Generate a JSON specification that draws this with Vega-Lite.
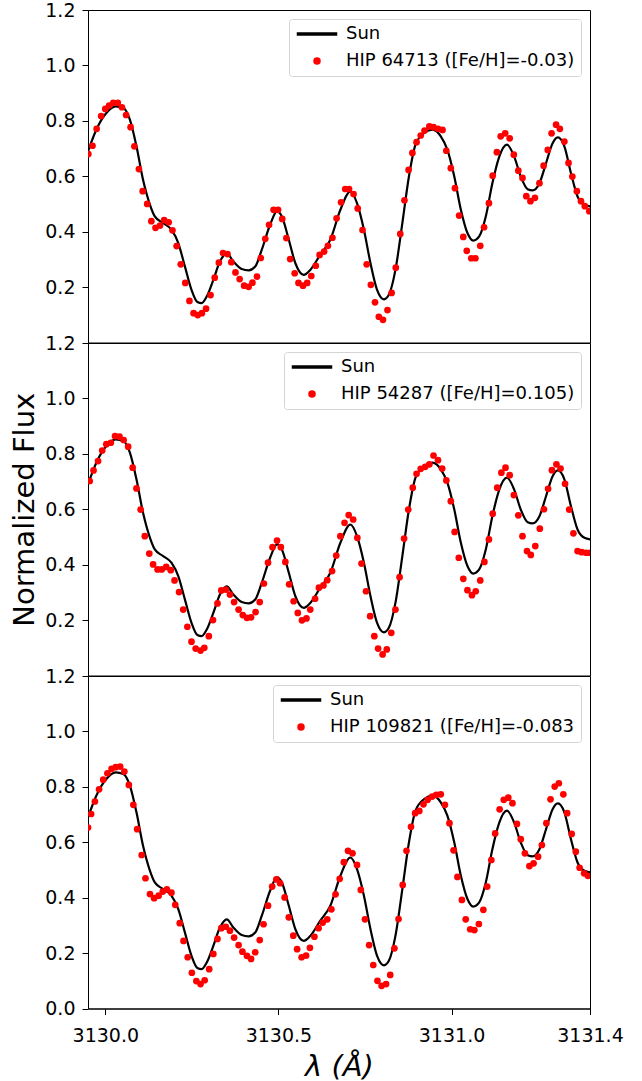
{
  "$schema": "https://vega.github.io/schema/vega-lite/v6.json",
  "padding": {"left": 10, "top": 0, "right": 5, "bottom": 0},
  "spacing": 0,
  "bounds": "flush",
  "resolve": {"scale": {"color": "independent", "shape": "independent"}, "legend": {"color": "independent", "shape": "independent"}},
  "config": {
    "font": "DejaVu Sans",
    "view": {"stroke": "black", "strokeWidth": 1},
    "axis": {"domainColor": "black", "tickColor": "black", "labelColor": "black", "grid": false, "labelFontSize": 19, "tickSize": 6, "domainWidth": 1, "tickWidth": 1, "titleFontSize": 29, "titleFontWeight": "normal", "titleColor": "black", "labelFlush": false, "labelOverlap": false},
    "legend": {"orient": "top-right", "offset": 9, "padding": 6, "labelFontSize": 18, "labelColor": "black", "labelLimit": 600, "symbolSize": 36, "rowPadding": 9, "strokeColor": "#d4d4d4", "fillColor": "white", "cornerRadius": 3, "symbolOffset": 13, "labelOffset": 20, "title": null}
  },
  "datasets": {
    "sun": [
      {"lambda":3129.950,"flux":0.690},{"lambda":3129.974,"flux":0.768},{"lambda":3130.003,"flux":0.828},{"lambda":3130.030,"flux":0.852},{"lambda":3130.052,"flux":0.846},{"lambda":3130.071,"flux":0.804},{"lambda":3130.090,"flux":0.708},{"lambda":3130.109,"flux":0.587},{"lambda":3130.129,"flux":0.497},{"lambda":3130.143,"flux":0.455},{"lambda":3130.167,"flux":0.431},{"lambda":3130.191,"flux":0.407},{"lambda":3130.211,"flux":0.358},{"lambda":3130.230,"flux":0.274},{"lambda":3130.249,"flux":0.190},{"lambda":3130.266,"flux":0.146},{"lambda":3130.278,"flux":0.142},{"lambda":3130.293,"flux":0.166},{"lambda":3130.312,"flux":0.226},{"lambda":3130.331,"flux":0.292},{"lambda":3130.351,"flux":0.322},{"lambda":3130.370,"flux":0.292},{"lambda":3130.394,"flux":0.265},{"lambda":3130.414,"flux":0.260},{"lambda":3130.433,"flux":0.274},{"lambda":3130.452,"flux":0.335},{"lambda":3130.476,"flux":0.425},{"lambda":3130.496,"flux":0.473},{"lambda":3130.510,"flux":0.455},{"lambda":3130.530,"flux":0.371},{"lambda":3130.549,"flux":0.286},{"lambda":3130.573,"flux":0.244},{"lambda":3130.592,"flux":0.262},{"lambda":3130.621,"flux":0.317},{"lambda":3130.650,"flux":0.371},{"lambda":3130.679,"flux":0.479},{"lambda":3130.708,"flux":0.545},{"lambda":3130.727,"flux":0.503},{"lambda":3130.747,"flux":0.407},{"lambda":3130.766,"flux":0.286},{"lambda":3130.785,"flux":0.190},{"lambda":3130.805,"flux":0.156},{"lambda":3130.819,"flux":0.172},{"lambda":3130.838,"flux":0.262},{"lambda":3130.858,"flux":0.431},{"lambda":3130.877,"flux":0.599},{"lambda":3130.896,"flux":0.714},{"lambda":3130.921,"flux":0.756},{"lambda":3130.945,"flux":0.768},{"lambda":3130.969,"flux":0.744},{"lambda":3130.988,"flux":0.696},{"lambda":3131.008,"flux":0.599},{"lambda":3131.027,"flux":0.479},{"lambda":3131.046,"flux":0.395},{"lambda":3131.063,"flux":0.368},{"lambda":3131.080,"flux":0.383},{"lambda":3131.099,"flux":0.455},{"lambda":3131.118,"flux":0.575},{"lambda":3131.138,"flux":0.671},{"lambda":3131.160,"flux":0.714},{"lambda":3131.181,"flux":0.671},{"lambda":3131.200,"flux":0.599},{"lambda":3131.220,"flux":0.553},{"lambda":3131.234,"flux":0.549},{"lambda":3131.254,"flux":0.575},{"lambda":3131.273,"flux":0.647},{"lambda":3131.292,"flux":0.719},{"lambda":3131.307,"flux":0.740},{"lambda":3131.326,"flux":0.708},{"lambda":3131.345,"flux":0.611},{"lambda":3131.364,"flux":0.527},{"lambda":3131.384,"flux":0.497},{"lambda":3131.403,"flux":0.491}
    ],
    "hip64713": [
      {"lambda":3129.951,"flux":0.680},{"lambda":3129.963,"flux":0.710},{"lambda":3129.975,"flux":0.771},{"lambda":3129.988,"flux":0.817},{"lambda":3130.000,"flux":0.843},{"lambda":3130.011,"flux":0.855},{"lambda":3130.023,"flux":0.865},{"lambda":3130.036,"flux":0.865},{"lambda":3130.048,"flux":0.849},{"lambda":3130.060,"flux":0.821},{"lambda":3130.073,"flux":0.777},{"lambda":3130.084,"flux":0.708},{"lambda":3130.097,"flux":0.626},{"lambda":3130.108,"flux":0.546},{"lambda":3130.121,"flux":0.500},{"lambda":3130.133,"flux":0.438},{"lambda":3130.145,"flux":0.414},{"lambda":3130.158,"flux":0.422},{"lambda":3130.170,"flux":0.442},{"lambda":3130.183,"flux":0.434},{"lambda":3130.194,"flux":0.405},{"lambda":3130.206,"flux":0.348},{"lambda":3130.218,"flux":0.282},{"lambda":3130.231,"flux":0.215},{"lambda":3130.243,"flux":0.150},{"lambda":3130.255,"flux":0.106},{"lambda":3130.267,"flux":0.099},{"lambda":3130.279,"flux":0.106},{"lambda":3130.291,"flux":0.122},{"lambda":3130.304,"flux":0.171},{"lambda":3130.316,"flux":0.234},{"lambda":3130.328,"flux":0.288},{"lambda":3130.340,"flux":0.323},{"lambda":3130.353,"flux":0.319},{"lambda":3130.364,"flux":0.290},{"lambda":3130.376,"flux":0.253},{"lambda":3130.388,"flux":0.229},{"lambda":3130.401,"flux":0.205},{"lambda":3130.414,"flux":0.201},{"lambda":3130.425,"flux":0.216},{"lambda":3130.438,"flux":0.238},{"lambda":3130.449,"flux":0.305},{"lambda":3130.462,"flux":0.374},{"lambda":3130.473,"flux":0.425},{"lambda":3130.486,"flux":0.479},{"lambda":3130.499,"flux":0.479},{"lambda":3130.511,"flux":0.446},{"lambda":3130.523,"flux":0.377},{"lambda":3130.534,"flux":0.301},{"lambda":3130.547,"flux":0.250},{"lambda":3130.558,"flux":0.215},{"lambda":3130.571,"flux":0.205},{"lambda":3130.583,"flux":0.215},{"lambda":3130.595,"flux":0.240},{"lambda":3130.608,"flux":0.277},{"lambda":3130.619,"flux":0.316},{"lambda":3130.632,"flux":0.328},{"lambda":3130.643,"flux":0.349},{"lambda":3130.656,"flux":0.378},{"lambda":3130.668,"flux":0.448},{"lambda":3130.681,"flux":0.506},{"lambda":3130.693,"flux":0.554},{"lambda":3130.704,"flux":0.554},{"lambda":3130.717,"flux":0.536},{"lambda":3130.729,"flux":0.484},{"lambda":3130.743,"flux":0.406},{"lambda":3130.755,"flux":0.282},{"lambda":3130.767,"flux":0.208},{"lambda":3130.779,"flux":0.145},{"lambda":3130.790,"flux":0.093},{"lambda":3130.802,"flux":0.082},{"lambda":3130.815,"flux":0.117},{"lambda":3130.827,"flux":0.179},{"lambda":3130.839,"flux":0.270},{"lambda":3130.852,"flux":0.392},{"lambda":3130.864,"flux":0.513},{"lambda":3130.876,"flux":0.623},{"lambda":3130.887,"flux":0.684},{"lambda":3130.899,"flux":0.723},{"lambda":3130.911,"flux":0.747},{"lambda":3130.922,"flux":0.765},{"lambda":3130.936,"flux":0.780},{"lambda":3130.948,"flux":0.777},{"lambda":3130.961,"flux":0.771},{"lambda":3130.974,"flux":0.767},{"lambda":3130.985,"flux":0.692},{"lambda":3130.998,"flux":0.629},{"lambda":3131.010,"flux":0.557},{"lambda":3131.022,"flux":0.458},{"lambda":3131.034,"flux":0.381},{"lambda":3131.044,"flux":0.331},{"lambda":3131.057,"flux":0.304},{"lambda":3131.069,"flux":0.304},{"lambda":3131.083,"flux":0.349},{"lambda":3131.094,"flux":0.416},{"lambda":3131.108,"flux":0.503},{"lambda":3131.119,"flux":0.602},{"lambda":3131.131,"flux":0.687},{"lambda":3131.142,"flux":0.744},{"lambda":3131.155,"flux":0.755},{"lambda":3131.168,"flux":0.737},{"lambda":3131.180,"flux":0.678},{"lambda":3131.193,"flux":0.620},{"lambda":3131.205,"flux":0.594},{"lambda":3131.216,"flux":0.528},{"lambda":3131.228,"flux":0.510},{"lambda":3131.241,"flux":0.522},{"lambda":3131.254,"flux":0.575},{"lambda":3131.266,"flux":0.638},{"lambda":3131.278,"flux":0.695},{"lambda":3131.289,"flux":0.755},{"lambda":3131.302,"flux":0.786},{"lambda":3131.313,"flux":0.771},{"lambda":3131.326,"flux":0.725},{"lambda":3131.338,"flux":0.648},{"lambda":3131.349,"flux":0.599},{"lambda":3131.362,"flux":0.546},{"lambda":3131.374,"flux":0.510},{"lambda":3131.385,"flux":0.492},{"lambda":3131.398,"flux":0.474}
    ],
    "hip54287": [
      {"lambda":3129.955,"flux":0.702},{"lambda":3129.966,"flux":0.740},{"lambda":3129.979,"flux":0.774},{"lambda":3129.991,"flux":0.812},{"lambda":3130.003,"flux":0.835},{"lambda":3130.016,"flux":0.840},{"lambda":3130.028,"flux":0.864},{"lambda":3130.041,"flux":0.862},{"lambda":3130.053,"flux":0.850},{"lambda":3130.066,"flux":0.826},{"lambda":3130.079,"flux":0.750},{"lambda":3130.090,"flux":0.675},{"lambda":3130.102,"flux":0.599},{"lambda":3130.114,"flux":0.503},{"lambda":3130.127,"flux":0.440},{"lambda":3130.138,"flux":0.401},{"lambda":3130.151,"flux":0.383},{"lambda":3130.163,"flux":0.383},{"lambda":3130.176,"flux":0.392},{"lambda":3130.189,"flux":0.380},{"lambda":3130.200,"flux":0.343},{"lambda":3130.213,"flux":0.301},{"lambda":3130.225,"flux":0.238},{"lambda":3130.237,"flux":0.176},{"lambda":3130.249,"flux":0.122},{"lambda":3130.261,"flux":0.097},{"lambda":3130.275,"flux":0.090},{"lambda":3130.286,"flux":0.100},{"lambda":3130.299,"flux":0.142},{"lambda":3130.311,"flux":0.200},{"lambda":3130.324,"flux":0.260},{"lambda":3130.335,"flux":0.307},{"lambda":3130.348,"flux":0.310},{"lambda":3130.360,"flux":0.292},{"lambda":3130.372,"flux":0.265},{"lambda":3130.385,"flux":0.238},{"lambda":3130.397,"flux":0.218},{"lambda":3130.409,"flux":0.208},{"lambda":3130.421,"flux":0.210},{"lambda":3130.434,"flux":0.229},{"lambda":3130.446,"flux":0.265},{"lambda":3130.458,"flux":0.332},{"lambda":3130.470,"flux":0.407},{"lambda":3130.483,"flux":0.463},{"lambda":3130.496,"flux":0.487},{"lambda":3130.507,"flux":0.463},{"lambda":3130.520,"flux":0.410},{"lambda":3130.531,"flux":0.329},{"lambda":3130.544,"flux":0.268},{"lambda":3130.556,"flux":0.226},{"lambda":3130.568,"flux":0.199},{"lambda":3130.581,"flux":0.206},{"lambda":3130.592,"flux":0.238},{"lambda":3130.606,"flux":0.277},{"lambda":3130.617,"flux":0.317},{"lambda":3130.630,"flux":0.325},{"lambda":3130.641,"flux":0.344},{"lambda":3130.655,"flux":0.377},{"lambda":3130.667,"flux":0.433},{"lambda":3130.679,"flux":0.503},{"lambda":3130.691,"flux":0.551},{"lambda":3130.703,"flux":0.579},{"lambda":3130.716,"flux":0.563},{"lambda":3130.728,"flux":0.497},{"lambda":3130.740,"flux":0.404},{"lambda":3130.753,"flux":0.304},{"lambda":3130.765,"flux":0.214},{"lambda":3130.777,"flux":0.142},{"lambda":3130.788,"flux":0.097},{"lambda":3130.801,"flux":0.076},{"lambda":3130.813,"flux":0.094},{"lambda":3130.826,"flux":0.154},{"lambda":3130.838,"flux":0.238},{"lambda":3130.850,"flux":0.355},{"lambda":3130.863,"flux":0.494},{"lambda":3130.875,"flux":0.599},{"lambda":3130.888,"flux":0.678},{"lambda":3130.899,"flux":0.728},{"lambda":3130.911,"flux":0.746},{"lambda":3130.924,"flux":0.753},{"lambda":3130.936,"flux":0.762},{"lambda":3130.948,"flux":0.794},{"lambda":3130.961,"flux":0.777},{"lambda":3130.973,"flux":0.747},{"lambda":3130.985,"flux":0.704},{"lambda":3130.998,"flux":0.629},{"lambda":3131.009,"flux":0.518},{"lambda":3131.021,"flux":0.425},{"lambda":3131.034,"flux":0.349},{"lambda":3131.046,"flux":0.308},{"lambda":3131.059,"flux":0.290},{"lambda":3131.070,"flux":0.304},{"lambda":3131.083,"flux":0.343},{"lambda":3131.095,"flux":0.410},{"lambda":3131.108,"flux":0.491},{"lambda":3131.119,"flux":0.584},{"lambda":3131.132,"flux":0.678},{"lambda":3131.144,"flux":0.732},{"lambda":3131.156,"flux":0.750},{"lambda":3131.168,"flux":0.723},{"lambda":3131.180,"flux":0.651},{"lambda":3131.193,"flux":0.578},{"lambda":3131.205,"flux":0.503},{"lambda":3131.218,"flux":0.449},{"lambda":3131.229,"flux":0.435},{"lambda":3131.242,"flux":0.467},{"lambda":3131.255,"flux":0.530},{"lambda":3131.267,"flux":0.600},{"lambda":3131.279,"flux":0.674},{"lambda":3131.290,"flux":0.741},{"lambda":3131.303,"flux":0.762},{"lambda":3131.315,"flux":0.747},{"lambda":3131.328,"flux":0.692},{"lambda":3131.340,"flux":0.599},{"lambda":3131.352,"flux":0.513},{"lambda":3131.364,"flux":0.449},{"lambda":3131.376,"flux":0.445},{"lambda":3131.389,"flux":0.443},{"lambda":3131.400,"flux":0.443}
    ],
    "hip109821": [
      {"lambda":3129.950,"flux":0.653},{"lambda":3129.959,"flux":0.702},{"lambda":3129.970,"flux":0.747},{"lambda":3129.982,"flux":0.791},{"lambda":3129.994,"flux":0.826},{"lambda":3130.006,"flux":0.849},{"lambda":3130.018,"flux":0.865},{"lambda":3130.030,"flux":0.871},{"lambda":3130.043,"flux":0.873},{"lambda":3130.055,"flux":0.855},{"lambda":3130.068,"flux":0.807},{"lambda":3130.081,"flux":0.735},{"lambda":3130.092,"flux":0.647},{"lambda":3130.105,"flux":0.554},{"lambda":3130.116,"flux":0.470},{"lambda":3130.129,"flux":0.413},{"lambda":3130.141,"flux":0.398},{"lambda":3130.154,"flux":0.407},{"lambda":3130.166,"flux":0.422},{"lambda":3130.178,"flux":0.430},{"lambda":3130.191,"flux":0.418},{"lambda":3130.202,"flux":0.374},{"lambda":3130.215,"flux":0.308},{"lambda":3130.226,"flux":0.244},{"lambda":3130.238,"flux":0.185},{"lambda":3130.250,"flux":0.129},{"lambda":3130.263,"flux":0.099},{"lambda":3130.275,"flux":0.088},{"lambda":3130.287,"flux":0.102},{"lambda":3130.300,"flux":0.142},{"lambda":3130.312,"flux":0.197},{"lambda":3130.324,"flux":0.251},{"lambda":3130.335,"flux":0.290},{"lambda":3130.348,"flux":0.295},{"lambda":3130.360,"flux":0.281},{"lambda":3130.372,"flux":0.256},{"lambda":3130.385,"flux":0.229},{"lambda":3130.396,"flux":0.205},{"lambda":3130.409,"flux":0.190},{"lambda":3130.421,"flux":0.179},{"lambda":3130.433,"flux":0.203},{"lambda":3130.446,"flux":0.247},{"lambda":3130.457,"flux":0.304},{"lambda":3130.470,"flux":0.371},{"lambda":3130.482,"flux":0.440},{"lambda":3130.494,"flux":0.466},{"lambda":3130.505,"flux":0.452},{"lambda":3130.518,"flux":0.401},{"lambda":3130.530,"flux":0.329},{"lambda":3130.543,"flux":0.263},{"lambda":3130.554,"flux":0.214},{"lambda":3130.567,"flux":0.185},{"lambda":3130.580,"flux":0.191},{"lambda":3130.591,"flux":0.219},{"lambda":3130.604,"flux":0.259},{"lambda":3130.616,"flux":0.290},{"lambda":3130.628,"flux":0.310},{"lambda":3130.641,"flux":0.322},{"lambda":3130.653,"flux":0.358},{"lambda":3130.665,"flux":0.412},{"lambda":3130.677,"flux":0.468},{"lambda":3130.689,"flux":0.528},{"lambda":3130.701,"flux":0.569},{"lambda":3130.714,"flux":0.560},{"lambda":3130.727,"flux":0.518},{"lambda":3130.738,"flux":0.428},{"lambda":3130.750,"flux":0.322},{"lambda":3130.762,"flux":0.229},{"lambda":3130.774,"flux":0.157},{"lambda":3130.786,"flux":0.100},{"lambda":3130.798,"flux":0.082},{"lambda":3130.811,"flux":0.088},{"lambda":3130.823,"flux":0.121},{"lambda":3130.835,"flux":0.217},{"lambda":3130.847,"flux":0.323},{"lambda":3130.859,"flux":0.446},{"lambda":3130.870,"flux":0.569},{"lambda":3130.883,"flux":0.656},{"lambda":3130.895,"flux":0.705},{"lambda":3130.907,"flux":0.713},{"lambda":3130.919,"flux":0.737},{"lambda":3130.931,"flux":0.753},{"lambda":3130.944,"flux":0.765},{"lambda":3130.956,"flux":0.771},{"lambda":3130.969,"flux":0.773},{"lambda":3130.981,"flux":0.735},{"lambda":3130.994,"flux":0.669},{"lambda":3131.006,"flux":0.571},{"lambda":3131.017,"flux":0.475},{"lambda":3131.030,"flux":0.392},{"lambda":3131.041,"flux":0.322},{"lambda":3131.054,"flux":0.286},{"lambda":3131.066,"flux":0.283},{"lambda":3131.079,"flux":0.305},{"lambda":3131.092,"flux":0.356},{"lambda":3131.103,"flux":0.440},{"lambda":3131.115,"flux":0.536},{"lambda":3131.126,"flux":0.632},{"lambda":3131.139,"flux":0.719},{"lambda":3131.151,"flux":0.753},{"lambda":3131.164,"flux":0.761},{"lambda":3131.176,"flux":0.741},{"lambda":3131.189,"flux":0.666},{"lambda":3131.200,"flux":0.611},{"lambda":3131.212,"flux":0.560},{"lambda":3131.225,"flux":0.514},{"lambda":3131.237,"flux":0.524},{"lambda":3131.250,"flux":0.548},{"lambda":3131.261,"flux":0.590},{"lambda":3131.274,"flux":0.669},{"lambda":3131.286,"flux":0.755},{"lambda":3131.298,"flux":0.801},{"lambda":3131.310,"flux":0.813},{"lambda":3131.323,"flux":0.773},{"lambda":3131.334,"flux":0.705},{"lambda":3131.347,"flux":0.630},{"lambda":3131.359,"flux":0.566},{"lambda":3131.370,"flux":0.508},{"lambda":3131.383,"flux":0.488},{"lambda":3131.394,"flux":0.479}
    ]
  },
  "vconcat": [
    {
      "width": 502, "height": 332.5,
      "layer": [
        {"data": {"name": "sun"}, "mark": {"type": "line", "strokeWidth": 2.2, "interpolate": "monotone", "clip": true},
         "encoding": {
           "x": {"field": "lambda", "type": "quantitative", "scale": {"domain": [3129.95, 3131.4], "nice": false, "zero": false}, "axis": null},
           "y": {"field": "flux", "type": "quantitative", "scale": {"domain": [0, 1.2], "nice": false}, "axis": {"values": [0.2, 0.4, 0.6, 0.8, 1.0, 1.2], "format": ".1f", "title": null, "labelPadding": 7}},
           "color": {"datum": "Sun", "type": "nominal", "scale": {"domain": ["Sun", "HIP 64713 ([Fe/H]=-0.03)"], "range": ["black", "red"]}}
         }},
        {"data": {"name": "hip64713"}, "mark": {"type": "point", "filled": true, "size": 45, "opacity": 1, "clip": true},
         "encoding": {
           "x": {"field": "lambda", "type": "quantitative"},
           "y": {"field": "flux", "type": "quantitative"},
           "color": {"datum": "HIP 64713 ([Fe/H]=-0.03)", "type": "nominal"},
           "shape": {"datum": "HIP 64713 ([Fe/H]=-0.03)", "type": "nominal", "scale": {"domain": ["Sun", "HIP 64713 ([Fe/H]=-0.03)"], "range": ["M-6.5,-0.33H6.5V0.33H-6.5Z", "circle"]}}
         }}
      ]
    },
    {
      "width": 502, "height": 332.5,
      "layer": [
        {"data": {"name": "sun"}, "mark": {"type": "line", "strokeWidth": 2.2, "interpolate": "monotone", "clip": true},
         "encoding": {
           "x": {"field": "lambda", "type": "quantitative", "scale": {"domain": [3129.95, 3131.4], "nice": false, "zero": false}, "axis": null},
           "y": {"field": "flux", "type": "quantitative", "scale": {"domain": [0, 1.2], "nice": false}, "axis": {"values": [0.2, 0.4, 0.6, 0.8, 1.0, 1.2], "format": ".1f", "title": "Normalized Flux", "labelPadding": 7, "titlePadding": 5}},
           "color": {"datum": "Sun", "type": "nominal", "scale": {"domain": ["Sun", "HIP 54287 ([Fe/H]=0.105)"], "range": ["black", "red"]}}
         }},
        {"data": {"name": "hip54287"}, "mark": {"type": "point", "filled": true, "size": 45, "opacity": 1, "clip": true},
         "encoding": {
           "x": {"field": "lambda", "type": "quantitative"},
           "y": {"field": "flux", "type": "quantitative"},
           "color": {"datum": "HIP 54287 ([Fe/H]=0.105)", "type": "nominal"},
           "shape": {"datum": "HIP 54287 ([Fe/H]=0.105)", "type": "nominal", "scale": {"domain": ["Sun", "HIP 54287 ([Fe/H]=0.105)"], "range": ["M-6.5,-0.33H6.5V0.33H-6.5Z", "circle"]}}
         }}
      ]
    },
    {
      "width": 502, "height": 332.5,
      "layer": [
        {"data": {"name": "sun"}, "mark": {"type": "line", "strokeWidth": 2.2, "interpolate": "monotone", "clip": true},
         "encoding": {
           "x": {"field": "lambda", "type": "quantitative", "scale": {"domain": [3129.95, 3131.4], "nice": false, "zero": false}, "axis": {"values": [3130.0, 3130.5, 3131.0, 3131.4], "format": ".1f", "title": "λ (Å)", "titleFontStyle": "italic", "labelPadding": 12, "titlePadding": 7}},
           "y": {"field": "flux", "type": "quantitative", "scale": {"domain": [0, 1.2], "nice": false}, "axis": {"values": [0, 0.2, 0.4, 0.6, 0.8, 1.0, 1.2], "format": ".1f", "title": null, "labelPadding": 7}},
           "color": {"datum": "Sun", "type": "nominal", "scale": {"domain": ["Sun", "HIP 109821 ([Fe/H]=-0.083"], "range": ["black", "red"]}}
         }},
        {"data": {"name": "hip109821"}, "mark": {"type": "point", "filled": true, "size": 45, "opacity": 1, "clip": true},
         "encoding": {
           "x": {"field": "lambda", "type": "quantitative"},
           "y": {"field": "flux", "type": "quantitative"},
           "color": {"datum": "HIP 109821 ([Fe/H]=-0.083", "type": "nominal"},
           "shape": {"datum": "HIP 109821 ([Fe/H]=-0.083", "type": "nominal", "scale": {"domain": ["Sun", "HIP 109821 ([Fe/H]=-0.083"], "range": ["M-6.5,-0.33H6.5V0.33H-6.5Z", "circle"]}}
         }}
      ]
    }
  ]
}
